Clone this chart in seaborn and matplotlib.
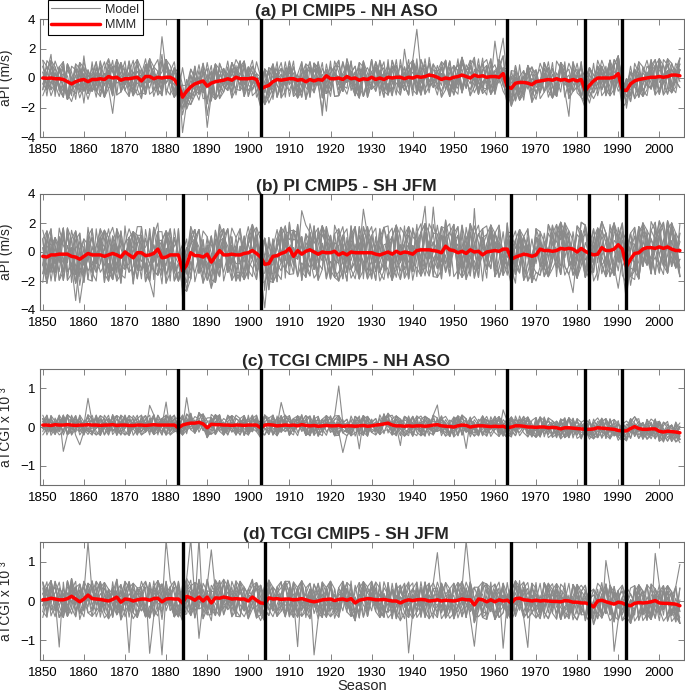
import matplotlib
matplotlib.use("Agg")
import matplotlib.pyplot as plt
from matplotlib.lines import Line2D
import pandas as pd
import seaborn as sns

sns.set_style("ticks")
plt.rcParams["font.family"] = ["Liberation Sans", "DejaVu Sans"]

years = list(range(1850, 2006))

# ---- multi-model means (MMM) ----
mmm_a = [0.0, -0.02, 0.0, -0.05, -0.05, -0.1, -0.25, -0.4, -0.25, -0.15,
         -0.1, -0.25, -0.1, -0.1, -0.05, -0.1, 0.1, 0.0, 0.05, -0.15,
         -0.05, -0.05, 0.0, 0.05, -0.2, 0.1, 0.1, -0.05, 0.05, 0.0,
         0.05, 0.05, -0.1, -0.5, -1.3, -0.9, -0.6, -0.4, -0.3, -0.2,
         -0.55, -0.35, -0.25, -0.2, -0.15, -0.05, -0.15, 0.05, -0.05, -0.05,
         -0.05, 0.0, -0.1, -0.75, -0.6, -0.5, -0.25, -0.1, -0.15, -0.1,
         -0.05, -0.05, -0.15, -0.1, -0.25, -0.1, -0.2, -0.1, -0.15, 0.15,
         -0.05, -0.05, 0.0, -0.1, 0.1, -0.05, 0.0, -0.15, -0.05, -0.1,
         0.05, -0.1, 0.0, -0.1, 0.05, 0.0, 0.05, 0.05, -0.05, 0.05,
         0.0, 0.1, 0.05, 0.1, 0.2, 0.15, 0.05, -0.1, 0.0, -0.05,
         0.05, 0.1, 0.2, 0.1, 0.0, 0.2, 0.1, 0.15, 0.05, 0.1,
         0.1, 0.05, 0.3, -0.6, -0.7, -0.35, -0.3, -0.3, -0.35, -0.45,
         -0.25, -0.2, -0.15, -0.1, -0.15, -0.05, -0.15, -0.1, -0.2, -0.1,
         -0.2, -0.1, -0.85, -0.5, -0.2, 0.0, 0.0, 0.0, 0.0, 0.05,
         0.3, -0.8, -0.85, -0.4, -0.2, -0.1, -0.05, 0.0, 0.05, 0.05,
         0.1, 0.05, 0.1, 0.2, 0.2, 0.15]

mmm_b = [-0.3, -0.35, -0.2, -0.2, -0.15, -0.15, -0.15, -0.3, -0.35, -0.5,
         -0.3, -0.1, -0.2, -0.2, -0.2, -0.3, -0.2, -0.1, -0.2, -0.35,
         0.0, -0.2, -0.4, -0.05, -0.05, -0.25, -0.2, -0.1, 0.2, -0.4,
         -0.35, -0.2, -0.2, -0.2, -1.3, -0.9, -0.05, -0.25, -0.25, -0.35,
         -0.15, -0.7, -0.3, 0.1, -0.2, -0.2, -0.15, -0.2, -0.2, -0.1,
         -0.05, 0.1, -0.1, -0.35, -0.85, -0.8, -0.3, -0.25, -0.1, 0.0,
         0.25, -0.3, 0.1, -0.15, 0.05, 0.15, 0.0, -0.15, 0.0, -0.05,
         -0.05, 0.05, -0.2, -0.05, -0.2, 0.0, -0.05, -0.05, -0.05, -0.05,
         -0.05, -0.15, -0.2, -0.1, 0.0, -0.15, 0.05, -0.1, 0.0, -0.05,
         -0.15, 0.1, 0.15, 0.15, 0.15, 0.1, 0.05, -0.05, 0.4, 0.15,
         0.1, -0.05, 0.05, -0.1, 0.15, 0.0, 0.05, -0.2, 0.0, 0.05,
         0.1, 0.05, 0.2, 0.2, -0.5, -0.35, -0.25, -0.15, -0.2, -0.3,
         -0.2, 0.2, 0.1, 0.1, 0.05, 0.1, 0.25, 0.2, 0.25, 0.2,
         0.0, 0.25, 0.05, -0.1, -0.2, -0.15, 0.3, 0.1, 0.1, 0.2,
         0.5, 0.2, -1.0, -0.5, -0.1, -0.05, 0.2, 0.3, 0.3, 0.25,
         0.35, 0.25, 0.35, 0.2, 0.1, 0.1]

mmm_c = [0.05, 0.05, 0.04, 0.06, 0.05, 0.05, 0.06, 0.05, 0.04, 0.05,
         0.05, 0.06, 0.05, 0.05, 0.04, 0.05, 0.05, 0.06, 0.04, 0.05,
         0.05, 0.04, 0.04, 0.05, 0.05, 0.04, 0.05, 0.06, 0.05, 0.05,
         0.05, 0.05, 0.05, -0.02, 0.05, 0.08, 0.1, 0.1, 0.12, 0.08,
         -0.02, 0.07, 0.06, 0.06, 0.05, 0.05, 0.04, 0.05, 0.05, 0.04,
         0.05, 0.05, 0.05, -0.02, 0.05, 0.06, 0.05, 0.03, 0.04, 0.05,
         0.04, 0.05, 0.03, 0.06, 0.04, 0.03, 0.04, 0.02, 0.03, 0.04,
         0.03, 0.03, 0.04, 0.02, 0.03, 0.03, 0.02, 0.03, 0.04, 0.02,
         0.03, 0.05, 0.06, 0.08, 0.1, 0.05, 0.03, 0.03, 0.02, 0.03,
         0.02, 0.03, 0.03, 0.02, 0.03, 0.05, 0.06, 0.03, 0.02, 0.01,
         0.0, 0.03, 0.05, 0.04, 0.0, 0.02, 0.03, 0.03, 0.02, 0.01,
         0.02, 0.01, 0.02, -0.02, 0.0, 0.03, 0.03, 0.02, 0.0, 0.0,
         -0.01, 0.0, 0.0, -0.02, -0.01, -0.02, -0.05, -0.02, -0.02, -0.03,
         -0.04, -0.05, -0.06, -0.06, -0.05, -0.02, -0.03, -0.04, -0.05, -0.06,
         -0.09, -0.1, -0.1, -0.04, 0.01, -0.04, -0.06, -0.06, -0.05, -0.05,
         -0.11, -0.13, -0.11, -0.12, -0.13, -0.15]

mmm_d = [0.03, 0.04, 0.07, 0.05, 0.03, 0.03, 0.06, 0.12, 0.05, -0.02,
         0.05, 0.15, 0.06, 0.05, 0.04, 0.02, 0.0, 0.04, 0.1, -0.03,
         0.05, 0.04, 0.0, 0.03, 0.05, 0.05, 0.02, 0.06, 0.07, -0.02,
         0.05, 0.06, 0.05, 0.05, -0.05, 0.12, 0.08, 0.02, 0.1, 0.0,
         0.1, -0.05, 0.08, 0.07, 0.1, 0.08, 0.05, 0.06, 0.05, 0.05,
         0.0, 0.1, 0.02, -0.05, -0.06, 0.08, 0.05, 0.06, 0.04, 0.05,
         0.05, 0.03, 0.04, 0.06, 0.03, 0.0, -0.02, 0.0, 0.03, 0.04,
         0.05, 0.01, 0.04, 0.05, 0.02, 0.06, -0.05, 0.02, 0.04, 0.06,
         0.05, 0.03, 0.03, 0.04, 0.02, 0.0, 0.0, -0.05, 0.0, 0.03,
         0.01, 0.03, 0.04, 0.03, 0.0, 0.01, 0.03, 0.0, 0.02, 0.01,
         0.0, 0.02, 0.05, 0.03, 0.03, -0.1, 0.05, 0.03, -0.02, 0.03,
         -0.02, 0.03, 0.0, 0.02, -0.05, 0.06, 0.07, 0.03, 0.02, 0.0,
         0.02, 0.0, 0.01, 0.0, -0.01, -0.01, -0.02, 0.01, 0.0, -0.03,
         -0.03, -0.05, -0.05, -0.08, -0.15, 0.0, 0.02, -0.02, -0.05, -0.08,
         -0.03, -0.05, -0.1, -0.12, -0.06, -0.04, -0.05, -0.04, -0.02, 0.01,
         -0.05, -0.06, -0.06, -0.07, -0.08, -0.12]

# ---- individual models: deviation from MMM, one letter per season ('M' = 0) ----
step_a, step_b, step_c, step_d = 0.4, 0.6, 0.085, 0.15

models_a = [
    "MLNKOMJLNPMK LOMNKGMPNLKM NMLOPKMNJLRM KNMLQMJNOLMK PMKLNOMJKMNL MOLKNPMLHMON LKMNOJMLPKMN OMLKRMNLJMOK NMPLKMJONMLK MLSNKPMJLNMO KMNLOMKPJMNL MNKLOMPKLNMJ OMLNKMJPOMLN",
    "KNPMLJONMKQL MJNLOKMPLNJM OLKNMQJMLOGK MPKLJNMOLKPM NLOMKJPMNLKO JMNPLKOMGNLM PKMLNOJMKLPN MOKJNLPMOKLM NJMPLKONMJLP KOMNLJMPKNOL MKPNJLOMNKLP JNMOLKMPNJOM LKNPMJOLMKNP",
    "OMKLNPJMLOKN MPLJNKOMLNPK JMONLKPMJNLO KLMPNJOKMLNM PJLNMOKLMPJN OKMLNJPMKOLN MLKPJNOMLKNP JONMKLPUNJKL OMPLKNJMOLKM NPJMLOKNMLPJ KMNOLJPMKLNO MJLPNKOMJNLK PNMLKOJMPNLK",
    "LNQJOKPMLNIO MKNPLJOMNLKP OJMNLKPOMJNL KPLMNOJKMLPN MJONLKMPOJNL KMLNPJOMKLNO PLJMNKOLMPJN MONKLJPMNOKL JNMPKLOMJNLK OKMLNPJMKOLN MPNJLKOMPNLJ KLMONJPKMLNO NJMLKOPMNJLK",
    "PKLNMOJMPKLN MNOJLKPMNOLJ KMPLNJOMKPLN OLJMFKPLOMJN MKNLPOJMKNLP LOMJNKPLOMKN JPMNLKOJPMNL NKMOLJPNKMOL MLPJNOKMLPJN OKNMLJPOKNML JMOLNKPJMOLN KPNMLOJKPNML MJLONKPMJLON",
    "NJOMLKPNJOML KLPMNJOKLPMN MONJLKPMONJL JKMPHLOJKMPN OLNKMJPOLNKM MPJLNOKMPJLN LNOKMJPLNOKM KMJPLNOKMJPL NOLMKJPNOLMK JPKMNLOJPKMN MLNOJKPMLNOJ OKLMPNJOKLMP LJNMOKPLJNMO",
    "MOKNLJPMOKNL NLPJMKONLPJM KJMONLPKJMON PNLKMOJPNLKM LMOJKNPLMOJK OJNLMKPOJNLM MKPNOLJMKPNO JLMKNOPJLMKN NPOLJMKNPOLJ KMLPSNJKMLPO OJKNMLPOJKNM LPMOJKNLPMOJ MNJKPLOMNJKP",
    "LKPOMNJLKPOM OMNJKLPOMNJK NPLMKJONPLMK JLOKNMPJLOKN MKNPLOJMKNPL PMJONLKPMGON KNLMJPOKNLMJ OLPKMNJOLPKM MJKNOLPMJKNO LNOMJKPLNOMJ NKMPLJONKMPL JOLNKMPJOLNK MPKLNOJMPKLN",
    "NMJLOPKNMJLO KOLNMPJKOLNM MJPKLTNMJPKL PNKOMLJPNKOM LOJMNKPLOJMN OKMNJLPOKMNJ JLPMKONJLPMK MNOKLJPMNOKL KPLJNOMKPLJN NJMOPLKNJMOP LMKNOJPLMKNO OPNLMKJOPNLM JKOMNLPJKOMN",
    "OLMNKJPOLMNK MKJOPNLMKJOP LNPMJKOLNPMJ KOMLNPJKOMLN PJNKMOLPJNKM NMLJOKPNMLJO LKONMPJLKONM JPMLKNOJPMLK MNKOJLPMNKOJ OJLPMNKOJLPM KMPNLJOKGPNL NLJKOMPNLJKO MOKJNPLMOKJN",
    "MNLOKPJMNLOK PKMNLOJPKMNL LOJKMNPLOJKM NMPLOKJNMPLO KLNOJMPKLNOJ OJKMNPLOJKMN MPLNKJOMPLNK JNOLMPKJNOLM LKMJONPLKMJO PMNOKLJPMNOK NOKLPJMNOKLP KLPJMNOKLPJM OMJNLKPOMJNL",
    "JLMPNOKJLMPN NPKLMJONPKLM MKONJPLMKONJ OLNJKMPOLNJK KPMONLJKPMON LMJKPONLMJKP NKOLJMPNKOLJ PJNMLOKPJNML MOLPKNJMOLPK KNJOMPLKNJOM OLPKJNMOLPKJ JMKNOLPJMKNO LPOMNJKLPOMN",
    "PONKMLJPONKM KMLJONPKMLJO NJPOKMLNJPOK LKMNPJOLKMNP OPJLMKNOPJLM MNKPJOLMNKPJ JLOMNKPJLOMN KPNJOLMKPNJO NOMKLPJNOMKL LJKPMONLJKPM MKNLJPOMKNLJ PNLOKMJPNLOK OKJMPLNOKJMP",
    "KPOLJMNKPOLJ LNJMPKOLNJMP JOMNLPKJOMNL MLKOJNPMLKOJ NPLKMOJNPLKM PKJNOLMPKJNO OMLPKJNOMLPK LJNMOKPLJNMO KOPJLMNKOPJL MJLNPKOMJLNP NKOMJLPNKOMJ OPMKNJLOPMKN JNKLOPMJNKLO",
]

models_b = [
    "NLKOMPJNLHKO LMPKJONMLKPN OKMNLJPKOMNL JNPLMKOJNPLM MOLKJNPMOLKN KPNMOLJKPNMO LJMNPKOLJMNP NOLKMJPNORKM PMJLNOKPMJLN MKOPLNJMKOPL ONLJMKPONLJM JLKNPOMJLKNP MPONKLJMPONK",
    "LOMJNPKLHMJN KMNPOLJKMNPO NJLMKOPNJLMK OPKLNMJOPKLN JMNOKLPJMNOK MLPJONKMLPJO PNKMLJOPNKML KJOMNPLKJOMN LMPNJKOLMPNJ NOJKMLPNOJKM OKLPNMJOKLPN MJNOLKPMJNOL KPMLJNOKPMLJ",
    "OKNLMJPOKNLM JPLNKOMJPLNK MNOKJLPMNOKJ LKMPONJLKMPO PJOMNKLPJOMN KNLRPOMKNLJP OMKNLPJOMKNL NLPOJMKNLPOJ JOMKNLPJOMKN MPJLOKNMPJLO LNKMPJOLNKMP PKOJLNMPKOJL NMLKOPJNMLKO",
    "MPKNJLOMPKNJ NLOJMKPNLOJM KOMPLNJKOMPL PJLKNOMPJLKN LNPMOJKLNPMO OMJLKPNOMJLK JKNOPMLJKNOP MOLNJKPMOLNJ NJPKMOLNJRKM KLOMJNPKLOMJ PNMJOLKPNMJO LMKPNOJLMKIN OJNLKMPOJNLK",
    "JNOLMKPJNOLM OKLPNJMOKLPN LMJHOPKLMJNO NPKOJLMNPKOJ KJMLPONKJMLP MONKLJPMONKL PLJOMNKPLJOM JOPMKLNJOPMK NKLJOMPNKLJO LPONMKJLPONM OMKJLPNOMKJL KNLPMOJKNLPM MJPONLKMJPON",
    "KMONLPJKMONL PLNJOMKPLNJO MKJPNLOMKJPN NOPMLKJNOPML LJKONMPLJKON OPMKJNLOPMKJ JNLPKOMJNLPK MKOLPJNMKOLP NPJMOKLNPJMO LOKNJPMLOKNJ KJNMLOPKJHML PMLOKJNPMLOK JOPLNMKJOPLN",
    "PNJMKOLPNJMK LKOPMJNLKOPM JPMLOKNJPMLO MOLNKPJMOLNK NJKOPLMNJKOP KPOJMNLKPOJM OLNKJMROLNKJ MJPLNOKMJPLN LOKMPJNLOKMP PMNJLKOPMNJL NKLMOPJNKLMO JOMPKLNJOMPK KLPNMJOKLPNM",
    "LPNOJKMLPNOJ JMKLOPNJMKLO OKPJNMLOKPJN MNLOKJPMNLOK KOJPLNMKOJPL PLMNJOKPLMNJ NJOKMLPNJOKM LOPMKNJLOPMK JKMONPLJKMON OPLJKMNOPLJK MNKPOLJMNKPO KJLNPOMKHLNP PMOKLJNPMOKL",
    "OJLKPNMOJLKP MNPOKJLMNPOK KLJMNOPKLJMN PONLJMKPONLJ NMKJOLPNMKJO JKPNMOLJKPNM LOMJKPNLOMJK OPKLNJMOPKLR MJNOPLKMJNOP KNOMLJPKNOML PLJKMONPLJKM JMPLONKJMPLO NOKMJPLNOKMJ",
    "NKPLOJMNKPLO KJONPMLKJONP PMLKJNOPMLKJ JOKNMPLJOKNM MLNPOKHMLNPO LNJOKMPLNJOK OPMLNJKOPMLN NMKJLPONMKJL KLOPMNJKLOPM JPNMKOLJPNMK MOJLNKPMOJLN PKNOJLMPKNOJ LJMKPONLJMKP",
    "LJMONPKLJMON OMNKLJPOMNKL PKLNJOMPKLNJ MOPJKNLMOPJK JNKLOPMJNKLO NPMOJLKNPMOJ KLJPMNOKLJPM OJKNLPMOJKNL MPOLNKJMPOLN LKNMJOPLKNMJ PONJKLMPONJK NMLOPJKNMLOP KJPMONLKJPMO",
    "OPLKNJMOPLKN KNOMJLPKNOMJ MLJOPKNMLJOP JOKNMPLJOKNM PMNLKOJPMNLK LKPJNMOLKPJN NOMKLJPNOMKL MJLPONKMJLPO KPNJOMLKPNJO OLMNKPJOLMNK JKOLPNMJKOLP PNJKMLOPNJKM LMKOJNPLMKOJ",
    "MJNKOLPMJNKO PLOMJNKPLOMJ NKPLMOJNKPLM KOLJNMPKOLJN OMJPKLNOMJPK JPNOLKMJPNOL LNKMPJOLNKMP PKOJMNLPKOJM NLMKOPJNLMKO MOJPLKNMOJPL KJLONMPKJLON ONPMKJLONPMK LPKNJOMLPKNJ",
    "KOPJMLNKOPJM MLNPKOJMLNPK OJKMNLPOJKMN NPMLOJKNPMLO LKOPJNMLKOPJ PMLNKJOPMLNK JOPKLMNJOPKL NLJMOPKNLJMO OKNLPJMOKNLP LPMOJKNLPMOJ MNKJLOPMNKJL JLOPNKMJLOPN PJMKLNOPJMKL",
]

models_c = [
    "NMKOLMPJNMLK OLMJNKMPOLMN KMNPLOJKMNLU MJLNKOMPLJNM NOKMLJPMNOKL LMPNKJOMLMNK OKLMNPJOKLMN MNJOKLPMNJOK KLOMNJPKLOMN PMNKROJPMNKL LJMONKPLJMON NKPMLOJNKPML MOLJKNPMOLJK",
    "LNMKPEJLNMKP OKJMLNPOKJML NPLKMOJNPLKM KMOPJLNKMOPJ MLKNOJPMLKNO JONMLKPJONML PKLJMNOPKLJM MNOLKJPMNOLK OLJNPMKOLJNP LKMOJNPLKMOJ NPKLMJONPKLM KOMNJLPKOMNJ MJLPKONMJLPK",
    "PMLNKOJPMLNK KLNOJMPKLNOJ MOKLPNJMOKLP NJMKOLPNJMKO NJMKOLPNJMTO OKMPLJNOKMPL JNLMOKPJNLMO MKPONLJMKPON NLJKMPONLJKM KPMLJONKPMLJ OMNJKLPOMNJK LKOPNMJLKOPN MNJLOKPMNJLO",
    "KONLMPJKONLM MPJNKLOMPJNK OLMKNJPOLMKN NKPOLMJNKPOL JMLPKONJMLPK LNOMJKPLNOMJ MKJLNFOMKJLN POKMLNJPOKML KLNJOMPKLNJO ONMPKJLONMPK JPLKNOMJPLKN MLOJPKNMLOJP NKMLOJPNKMLO",
    "OJMKLNPOJGKL LMPOKNJLMPOK NKLJMOPNKLJM MONPLJKMONPL KPJMNOLKPJMN JLNKOPMJLNKO PNOLMKJPNOLM LKMJPONLKMJP SKMJPONLKMJP MOLNKJPMOLNK NJPLOMKNJPLO KLONJPMKLONJ OPKMLNJOPKML",
    "LPKMONJLPKMU NMOJLPKNMOJL JKNLPMOJKNLP OLPMKJNOLPMK MNJOLKPMNJOL PKOLNMJPKOLN KMLJPNOKMLJP LOPNJKMLOPNJ LOPNJKMFOPNJ OMLPNJKOMLPN JLNOMKPJLNOM MPKJLONMPKJL KNOLJMPKNOLJ",
    "NOJLKPMNOJLK JPMNOKLJPMNO MKSPLJNMKOPL LNJMPOKLNJMP OJLKNMPOJLKN KMPOJNLKMPOJ NLKPMOJNLKPM PJOMLKNPJOML MNLKOPJMNLKO KONJMLPKONJM LPMKNJOLPMKN OKJNPMLOKJNP JMOLKNPJMOLK",
    "MKPJNOLMKPJN PLOMKNJPLOMK KNJPLMTKNJPL OMLNJKPOMLNJ NJPKOLMNJPKO LOKMNPJLOKMN JNMLPOKJNMLP JNMGPOKJNMLP OJMKLNPOJMKL NLOPMKJNLOPM MPJNKOLMPJNK LKNMOJPLKNMO PONJLMKPONJL",
    "JLOMNKPJLOMN NOKLJPMNOKLJ PMNKOLJPMNKO KJLOMNPKJLOM OPMLKJNOPMLK MLJNPOKMLJNP YNKOJMPLNKOJ NKPMLOJNKPML KOLJNPMKOLJN JMPKONLJMPKO PLNMJKOPLNMJ MOKLPJNMOKLP LJMNKOPLJMNK",
    "OMNLJKPOMNLJ MJKPNOLMJKPN LOPJMKNLOPJM PKMNLOJPKMNL JNOKPMLJNOKP NLMPJOKNLMPJ KEJLMNPKOJLM OPNKJLMOPNKJ MLKONPJMLKON LNPMKJOLNPMK PJOLMNKPJOLM NKMJOPLNKMJO KMLNPOJKMLNP",
    "MNOKLPJMNOKL KJLNMOPKJLNM OPMJKNLOPMJK LMKPONJLMKPO NKJLOMPNKJLO PLNMJKOPLNMJ JOKLPNMJOKLP MLPOJKNMLPOJ OKNJMLPOKNJM NJLPKOMNJLPK KPOMNLJKPOML LMJKOPNLMJKO PNKOLJMPNKOL",
    "LKPNOJMLKPNO NOJMKPLNOJMK KMLPJONKMLPJ OJNKLMPOJNKL MPKONLJMPKON JLMNPKOJLMNP PNOJKLMPNOJK KJMLONPKJMLO LONKPJMLONKP NMKJLOPNMKJL OKPLMNJOKPLM MJLONKPMJLON JNOMKPLJNOMK",
    "NPLJMKONPLJM MOKNPJLMOKNP JLNOKMPJLNOK PKMLJNOPKMLJ LONPMKJLONPM KJPMOLNKJPMO OMLKNJPOMLKN NKJOLPMNKJOL MPLNKOJMPLNK JNOKMPLJNOKM LKMPJONLKMPJ PONMLKJPONML KMJPNLOKMJPN",
    "OLKMPNJOLKMP JNPLOKMJNPLO PKOJNMLPKOJN MJLNKPOMJLNK KNMOPJLKNMOP NOPKLJMNOPKL LMNJOKPLMNJO OJKMPNLOJKMP KPLNJOMKPLNJ MNOLKJPMNOLK JKLPONMJKLPO PMJNLKOPMJNL NLOKMPJNLOKM",
]

models_d = [
    "LNKMEPJLNKMO MOJNLKPMOJNL KLPMNJOKLPMN NJMOKLPNJMOK OMKLPNJOMKLP JPNKMODJPNKM MKOLNJPMKOLN LOJPMKNLOJPM PNLJKOMPNLJK KMPNOLJKMPNO NLKJMPONLKJM OJMLNKPOJMLN JKNPOMLJKNPT",
    "OKMNPLJOKMNV NPLJKOMNPLJK MJOLNPKMJOLN KLNMJOPKLNMJ PONKLMJPONKL LMEPOKNLMJPO JNPKLMOJNPKL OLKNMPJOLKNM MPJOKLNMPJOK NKOLPJMNKOLP KJMPONLKJMPO PLNJMOKPLNJM LOKMJUPLOKMJ",
    "NPJLMOKNPJLM KMLONJPKMDON OJKPLMNOJKPL MLPNKJOMLPNK JONMPKLJONMP PKLOJNMPKLOJ LNMKOPJLNMKO NJOPLKMNJOPL KPNMJLOWPNMJ OLJKNMPOLJKN MKPLOJNMKPLO JNOMKPLJNOMK PMLJNOKPMLJN",
    "KJNOMLPKJNOM PLMKOJNPLMKO NODJPMLNOKJP JMPLNKOJMPLN LKOMJPNLKOMJ MNJPLOKMNJPL OPLNKMJOPLNK KLMOPJNKLMOP NJKLOMPNJFLO POMJKNLPOMJK JLPNMKOJLPNM MOKNJLPMOKNJ LNJKPOMLNJKP",
    "PLOKMNJPLOKM JNKPOLMJNKPO MKPJLDNMKPJL OJLNMKPOJLNM NMOPKJLNMOPK KPJMNLOKPJMN LOMKJPNLOMKJ PJNLODKPJNLO MLKNJOPMLKNJ JOPMLKNJOPML NKLOPMJNKLOP OMJKNPLOMJKN KPNLMJOKPNLM",
    "MOLJNKPMOLJN LKPNMOJLKPNM PNJOKLWPNJOK JLOMPNKJLOMP OKNLJMPOKNLJ NJMKOPLNJMKO KPLNMJOKPLNM MOKJPLNMOKJP UNPOLKMJNPOL PLKMNJOPLKMN LMNPKOJLMNPK NOJLMKPNOJLM OKMPJNLOKMPJ",
    "JMPKONLJMPKO OLNMJPKOLNMJ NKJLPOMNKJLP WMOKNLJPMOKN KJLNOMPKJLNO MPOLKJNMPOLK LOKPJNMLOKPJ NMJLOPKNMJLO OKPMNJLOKPMN JLNOEMPJLNOK MPKJLONMPKJL KNOMPLJKNOMP PJLKMNOPJLKM",
    "NLPMJKONLPMJ KPOLNJMKPOLN MJKOPNLMJKOP OLWJKPNOLMJK PKNMOLJPKNMO LJOPKMNLJOPK NOMJLKPNOMJL JKLNMOPJKLNM MPNOJLKMPNOJ KOJMPNLKOJEP OLKPNMJOLKPN JMPLKONJMPLK LNOKJMPLNOKJ",
    "KOLPNMJKOLPN MNPKJOLMNPKJ LJOMNKPLJOMN PKMLOVNPKMLO NOJKMPLNOJKM JLNPKOMJLNPK OMKJNLPOMKJN KPLOMJNKPLOM LNJMKPOLNJMK MKOPLNJMKOPL PJNKOLMPJNKO NLMOJTPNLMOJ OPKNLMJOPKNL",
    "PNKLOJMPNKLO LMOPJKNLMOPJ OKJNMPLOKJNM JPFMKONJPLMK MLNOPKJMLNOP NOKJLMPNOKJL KMPOJNLKMPOJ PLMNKJOPLMNK JOKLPMNJOKLP OMNJKPLOMNJK LKPOMNJLKPOM NJLMOKPEJLMO MPOKJLNMPOKJ",
    "MKNOLJPMKNOL OJLPMNKOJLPM LPMKJONLPMKJ NOKLPMJNOKLP KLJNOPMKLJNO PMOJKLNPMOJK JNLOMKPJNLOM MKPLJNOMKPLJ OLNKPMJOLNKP LPJMOKNLPJMO NMKOLPJNMKOL KOPNJLMKOPNJ PJMLKONPJMLK",
    "LOPMKJNLOPMK PMKNLOJPMKNL NJLKOPMNJLKO KPOJMNLKPOJM MLNPJKOMLNPJ OKJLNPMOKJLN JMOKPLNJMOKP NLPJKMONLPJK LKMOPNJLKMOP PNJKLMOPNJKL OMLNKJPOMLNK KJNPOMLKJNPO MPOLJNKMPOLJ",
    "PJOMLNKPJOML MNPKOLJMNPKO KLJONMPKLJON OPLMJKNOPLMJ JMKNPOLJMKNP NKOLMJPNKOLM LPNJKOMLPNJK KOMPLNJKOMPL MNJKOPLMNJKO PLOMNKJPLOMN JKPNLOMJKPNL ONLKJPMONLKJ LMOJPKNLMOJP",
    "NOMPJLKNOMPJ JKLMONPJKLMO OPNJKMLOPNJK MLKPNOJMLKPN PNJLMKOPNJLM KJOPLNMKJOPL NMLKJOPNMLKJ OLPMNKJOLPMN JPKNMLOJPKNM LMOKPJNLMOKP KNJLOPMKNJLO PLMJNOKPLMJN MOKPLJNMOKPL",
]

erup_a = [1883, 1903, 1963, 1982, 1991]
erup_b = [1884, 1903, 1964, 1983, 1992]
erup_c = [1883, 1903, 1963, 1982, 1991]
erup_d = [1884, 1904, 1964, 1983, 1992]

titles = ["(a) PI CMIP5 - NH ASO", "(b) PI CMIP5 - SH JFM",
          "(c) TCGI CMIP5 - NH ASO", "(d) TCGI CMIP5 - SH JFM"]
ylabels = ["aPI (m/s)", "aPI (m/s)", "aTCGI x 10 \u00b3", "aTCGI x 10 \u00b3"]
xticks = list(range(1850, 2001, 10))

W, H = 685, 695
fig = plt.figure(figsize=(W / 100, H / 100), dpi=100)

# axes boxes in pixels: (top, bottom)
boxes = [(19, 137), (194, 310), (369, 485), (542, 660)]
left_px, right_px = 39.5, 684

panels = [
    (mmm_a, models_a, step_a, erup_a, (-4, 4), [-4, -2, 0, 2, 4]),
    (mmm_b, models_b, step_b, erup_b, (-4, 4), [-4, -2, 0, 2, 4]),
    (mmm_c, models_c, step_c, erup_c, (-1.5, 1.5), [-1, 0, 1]),
    (mmm_d, models_d, step_d, erup_d, (-1.5, 1.5), [-1, 0, 1]),
]

frame_col = "#6e6e6e"
title_x = (346 - left_px) / (right_px - left_px)
for k, (mmm, models, step, erup, ylim, yticks) in enumerate(panels):
    top, bot = boxes[k]
    ax = fig.add_axes([left_px / W, 1 - bot / H, (right_px - left_px) / W, (bot - top) / H])
    rows = []
    for i, s in enumerate(models):
        codes = s.replace(" ", "")[:len(years)]
        for j, c in enumerate(codes):
            rows.append((years[j], mmm[j] + (ord(c) - ord("M")) * step, i))
    df = pd.DataFrame(rows, columns=["year", "value", "model"])
    sns.lineplot(data=df, x="year", y="value", units="model", estimator=None,
                 color="#8a8a8a", lw=0.8, ax=ax, legend=False, zorder=1)
    sns.lineplot(x=years, y=mmm, color="#ff0000", lw=2.5, ax=ax, zorder=3)
    for e in erup:
        ax.axvline(e, color="black", lw=2.4, zorder=4)
    ax.set_xlim(1849.2, 2006)
    ax.set_ylim(*ylim)
    ax.set_xticks(xticks)
    ax.set_yticks(yticks)
    ax.tick_params(direction="in", top=True, right=True, length=4, width=0.6,
                   color=frame_col, labelcolor="black", labelsize=9.5)
    ax.tick_params(axis="x", pad=5)
    ax.tick_params(axis="y", pad=3)
    for sp in ax.spines.values():
        sp.set_color(frame_col)
        sp.set_linewidth(0.8)
    ax.set_title(titles[k], fontsize=12.5, fontweight="bold", pad=2.5, x=title_x)
    ax.set_ylabel(ylabels[k], fontsize=10)
    ax.yaxis.set_label_coords(-0.041, 0.5)
    if k == 3:
        ax.set_xlabel("Season", fontsize=10.5, labelpad=0)
    else:
        ax.set_xlabel("")

handles = [Line2D([], [], color="#8a8a8a", lw=0.8), Line2D([], [], color="#ff0000", lw=2.5)]
leg = fig.legend(handles, ["Model", "MMM"], loc="upper left",
                 bbox_to_anchor=(47.7 / W, 1.0), bbox_transform=fig.transFigure,
                 frameon=True, fancybox=False, edgecolor="black", framealpha=1,
                 fontsize=9, handlelength=3.9, borderaxespad=0, borderpad=0.3,
                 labelspacing=0.25, handletextpad=0.4)
leg.get_frame().set_linewidth(0.8)

fig.savefig("out.png", dpi=100)
